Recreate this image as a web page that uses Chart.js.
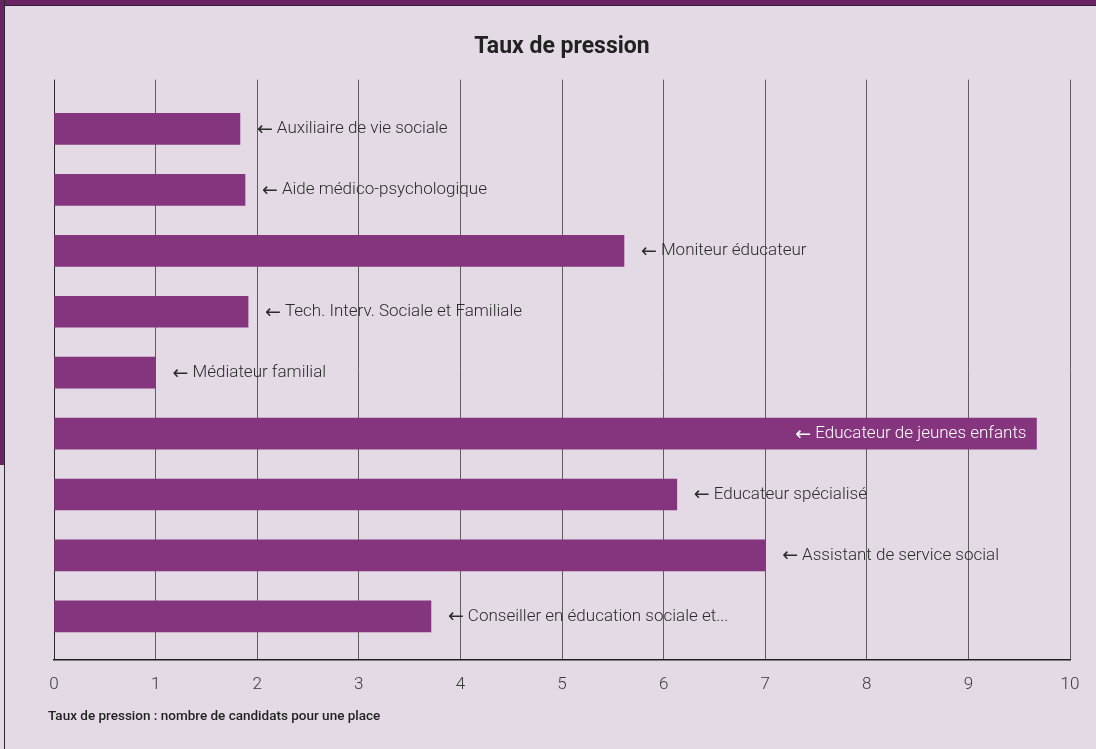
<!DOCTYPE html>
<html>
<head>
<meta charset="utf-8">
<script src="https://cdn.jsdelivr.net/npm/chart.js@4/dist/chart.umd.min.js"></script>
<style>
  html, body { margin: 0; padding: 0; background: #e4dae6; }
  #wrap { position: relative; width: 1096px; height: 749px; overflow: hidden; }
  #topBar { position: absolute; left: 0; top: 0; width: 1096px; height: 5px; background: #6a2463; border-bottom: 1px solid #3a1d37; }
  #leftBar { position: absolute; left: 0; top: 0; width: 4px; height: 465px; background: #6a2463; }
  #leftLine { position: absolute; left: 4px; top: 0; width: 1px; height: 749px; background: #2a2a2a; }
  canvas { position: absolute; left: 0; top: 0; }
</style>
</head>
<body>
<div id="wrap">
  <canvas id="pressionChart" width="1096" height="749"></canvas>
  <div id="topBar"></div>
  <div id="leftBar"></div>
  <div id="leftLine"></div>
</div>
<script>
// Formations (top to bottom) and pressure rate
const formations = [
    'Auxiliaire de vie sociale',
    'Aide médico-psychologique',
    'Moniteur éducateur',
    'Tech. Interv. Sociale et Familiale',
    'Médiateur familial',
    'Educateur de jeunes enfants',
    'Educateur spécialisé',
    'Assistant de service social',
    'Conseiller en éducation sociale et...'
];
const tauxPression = [1.83, 1.88, 5.61, 1.91, 1.00, 9.67, 6.13, 7.00, 3.71];
const xTicks = [0, 1, 2, 3, 4, 5, 6, 7, 8, 9, 10];

const chartTitle = 'Taux de pression';
const captionText = 'Taux de pression : nombre de candidats pour une place';

const barColor = '#84357e';
const textColor = '#2b2b2b';
const fontFamily = 'Roboto, "DejaVu Sans", sans-serif';

// Arrow labels next to each bar (inside the bar when it runs out of room)
const arrowLabels = {
    id: 'arrowLabels',
    afterDatasetsDraw(chart) {
        const c = chart.ctx;
        const area = chart.chartArea;
        const meta = chart.getDatasetMeta(0);
        const arrowFont = '19px "DejaVu Sans", sans-serif';
        const textFont = '300 17px ' + fontFamily;
        c.save();
        c.textBaseline = 'middle';
        c.textAlign = 'left';
        meta.data.forEach((bar, i) => {
            c.font = arrowFont;
            const aw = c.measureText('\u2190').width;
            c.font = textFont;
            const tw = c.measureText(formations[i]).width;
            const total = aw + 4 + tw;
            let x0 = bar.x + 17;
            if (x0 + total > area.right) {
                x0 = bar.x - 10 - total;
                c.fillStyle = '#ffffff';
            } else {
                c.fillStyle = textColor;
            }
            c.font = arrowFont;
            c.fillText('\u2190', x0, bar.y + 1);
            c.font = textFont;
            c.fillText(formations[i], x0 + aw + 4, bar.y);
        });
        c.restore();
    },
    afterDraw(chart) {
        // caption under the axis
        const c = chart.ctx;
        c.save();
        c.font = '500 13.5px ' + fontFamily;
        c.fillStyle = '#222';
        c.textAlign = 'left';
        c.textBaseline = 'middle';
        c.fillText(captionText, chart.chartArea.left - 6, 717);
        c.restore();
    }
};

const ctx = document.getElementById('pressionChart').getContext('2d');

new Chart(ctx, {
    type: 'bar',
    data: {
        datasets: [{
            label: chartTitle,
            data: tauxPression.map((v, i) => ({ x: v, y: i })),
            backgroundColor: barColor,
            borderWidth: 0,
            barThickness: 31
        }]
    },
    options: {
        indexAxis: 'y',
        responsive: false,
        animation: false,
        layout: { padding: { top: 10, left: 54, right: 26, bottom: 39 } },
        scales: {
            x: {
                type: 'linear',
                min: 0,
                max: 10,
                afterBuildTicks: (scale) => { scale.ticks = xTicks.map(v => ({ value: v })); },
                grid: {
                    drawTicks: false,
                    color: (c) => c.tick && c.tick.value === 0 ? '#2a2a2a' : '#5e5e5e',
                    lineWidth: 1
                },
                border: { display: true, color: '#1e1e1e', width: 1.5 },
                ticks: {
                    padding: 15,
                    color: '#3a3a3a',
                    font: { size: 17, weight: '300', family: fontFamily }
                }
            },
            y: {
                type: 'linear',
                display: false,
                offset: false,
                reverse: true,
                min: -0.81,
                max: 8.71
            }
        },
        plugins: {
            legend: { display: false },
            tooltip: { enabled: false },
            title: {
                display: true,
                text: chartTitle,
                color: '#222',
                font: { size: 23, weight: 'bold', family: fontFamily },
                padding: { top: 23, bottom: 19 }
            }
        }
    },
    plugins: [arrowLabels]
});
</script>
</body>
</html>
